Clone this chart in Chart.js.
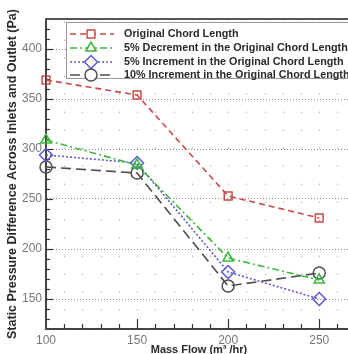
<!DOCTYPE html>
<html>
<head>
<meta charset="utf-8">
<script src="https://cdn.jsdelivr.net/npm/chart.js@4"></script>
<style>
  html, body { margin: 0; padding: 0; background: #fff; overflow: hidden; }
  #wrap { width: 348px; height: 354px; overflow: hidden; }
</style>
</head>
<body>
<div id="wrap"><canvas id="pressureChart" width="360" height="357"></canvas></div>
<script>
// mass flow (m3/hr) and static pressure difference (Pa)
const massFlow = [100, 150, 200, 250];
const originalChord = [369, 354, 253, 231];
const decrement5 = [309, 284, 191, 169];
const increment5 = [294, 286, 177, 150];
const increment10 = [282, 276, 163, 176];

const xTicks = [100, 150, 200, 250];
const yTicks = [150, 200, 250, 300, 350, 400];

const seriesLabels = [
    'Original Chord Length',
    '5% Decrement in the Original Chord Length',
    '5% Increment in the Original Chord Length',
    '10% Increment in the Original Chord Length'
];

const toPoints = vals => vals.map((v, i) => ({ x: massFlow[i], y: v }));

function makeSet(label, vals, color, dash, style, radius) {
    return {
        label: label,
        data: toPoints(vals),
        borderColor: color,
        borderWidth: 1.6,
        borderDash: dash,
        pointStyle: style,
        pointRadius: radius,
        pointBorderWidth: 1.5,
        pointBorderColor: color,
        pointBackgroundColor: 'rgba(255,255,255,0)',
        fill: false,
        clip: false,
        tension: 0
    };
}

// axis frame, minor ticks and sparse dotted verticals
const framePlugin = {
    id: 'frame',
    beforeDatasetsDraw(chart) {
        const ctx = chart.ctx;
        const xs = chart.scales.x, ys = chart.scales.y;
        const area = chart.chartArea;
        ctx.save();
        ctx.strokeStyle = '#b5b5b5';
        ctx.lineWidth = 1;
        ctx.setLineDash([1.5, 16.5]);
        for (let v = 110; v <= 260; v += 10) {
            const px = Math.round(xs.getPixelForValue(v)) + 0.5;
            ctx.beginPath();
            ctx.moveTo(px, area.bottom);
            ctx.lineTo(px, area.top);
            ctx.stroke();
        }
        ctx.setLineDash([]);
        ctx.strokeStyle = '#333';
        ctx.lineWidth = 1.2;
        for (let v = 110; v <= 260; v += 10) {
            const px = Math.round(xs.getPixelForValue(v)) + 0.5;
            const len = v % 50 === 0 ? 10 : 5;
            ctx.beginPath();
            ctx.moveTo(px, area.bottom);
            ctx.lineTo(px, area.bottom - len);
            ctx.stroke();
        }
        for (let v = 130; v <= 420; v += 10) {
            const py = Math.round(ys.getPixelForValue(v)) + 0.5;
            const len = v % 50 === 0 ? 7 : 4;
            ctx.beginPath();
            ctx.moveTo(area.left, py);
            ctx.lineTo(area.left + len, py);
            ctx.stroke();
        }
        // top frame
        ctx.strokeStyle = '#555';
        ctx.lineWidth = 2;
        ctx.beginPath();
        ctx.moveTo(area.left - 1, area.top);
        ctx.lineTo(chart.width, area.top);
        ctx.stroke();
        ctx.restore();
    },
    afterDraw(chart) {
        // boxed legend inside the plot
        const ctx = chart.ctx;
        const top = 22, left = 66, bottom = 78;
        const rows = [34, 48, 62, 75];
        ctx.save();
        ctx.fillStyle = '#fff';
        ctx.fillRect(left, top, chart.width - left, bottom - top);
        ctx.strokeStyle = '#999';
        ctx.lineWidth = 1;
        ctx.strokeRect(left + 0.5, top + 0.5, chart.width, bottom - top);
        chart.data.datasets.forEach((ds, i) => {
            const y = rows[i];
            const marker = {
                pointStyle: ds.pointStyle,
                radius: ds.pointRadius,
                borderWidth: ds.pointBorderWidth
            };
            ctx.strokeStyle = ds.borderColor;
            ctx.lineWidth = ds.borderWidth;
            ctx.setLineDash(ds.borderDash);
            ctx.beginPath();
            ctx.moveTo(left + 4, y);
            ctx.lineTo(left + 48, y);
            ctx.stroke();
            ctx.setLineDash([]);
            ctx.fillStyle = '#fff';
            ctx.lineWidth = ds.pointBorderWidth;
            Chart.helpers.drawPoint(ctx, marker, left + 25, y);
            ctx.fillStyle = '#2a2a2a';
            ctx.font = 'bold 10.8px "Liberation Sans", Arial, sans-serif';
            ctx.textBaseline = 'middle';
            ctx.textAlign = 'left';
            ctx.fillText(ds.label, left + 58, y);
        });
        ctx.restore();
    }
};

const ctx = document.getElementById('pressureChart').getContext('2d');
const pressureChart = new Chart(ctx, {
    type: 'line',
    data: {
        datasets: [
            makeSet(seriesLabels[0], originalChord, '#c94a47', [6, 4], 'rect', 5.5),
            makeSet(seriesLabels[1], decrement5, '#3cb83c', [7, 3, 2, 3], 'triangle', 6),
            makeSet(seriesLabels[2], increment5, '#5a5ad0', [2, 2], 'rectRot', 6.5),
            makeSet(seriesLabels[3], increment10, '#4d4d4d', [10, 5], 'circle', 6)
        ]
    },
    options: {
        responsive: false,
        animation: false,
        layout: { padding: { left: 0, right: 0, top: 19, bottom: 0 } },
        plugins: {
            legend: { display: false },
            tooltip: { enabled: false }
        },
        scales: {
            x: {
                type: 'linear',
                min: 100,
                max: 268,
                afterBuildTicks: s => { s.ticks = xTicks.map(v => ({ value: v })); },
                afterFit: s => { s.height = 28; },
                grid: { display: false, drawTicks: false },
                border: { display: true, color: '#444', width: 2 },
                ticks: {
                    padding: 4,
                    color: '#777',
                    font: { family: '"Liberation Sans", Arial, sans-serif', size: 12 },
                    maxRotation: 0
                },
                title: {
                    display: true,
                    text: 'Mass Flow (m³ /hr)',
                    color: '#2a2a2a',
                    font: { family: '"Liberation Sans", Arial, sans-serif', size: 11, weight: 'bold' },
                    padding: { top: 0, bottom: 0 }
                }
            },
            y: {
                min: 120,
                max: 430,
                afterBuildTicks: s => { s.ticks = yTicks.map(v => ({ value: v })); },
                afterFit: s => { s.width = 46; },
                grid: {
                    drawTicks: false,
                    color: '#8a8a8a',
                    lineWidth: 1
                },
                border: { display: true, color: '#444', width: 2, dash: [1, 2] },
                ticks: {
                    padding: 4,
                    color: '#777',
                    font: { family: '"Liberation Sans", Arial, sans-serif', size: 12 }
                },
                title: {
                    display: true,
                    text: 'Static Pressure Difference Across Inlets and Outlet (Pa)',
                    color: '#2a2a2a',
                    font: { family: '"Liberation Sans", Arial, sans-serif', size: 12.5, weight: 'bold' },
                    padding: { top: 5, bottom: 0 }
                }
            }
        }
    },
    plugins: [framePlugin]
});
</script>
</body>
</html>
